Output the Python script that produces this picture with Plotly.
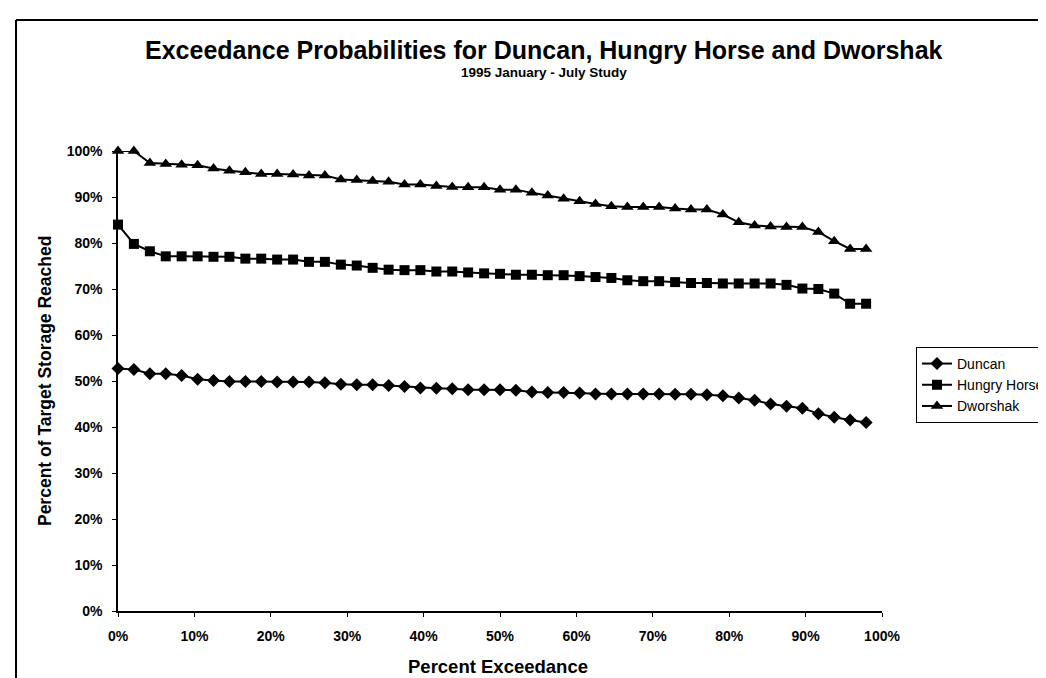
import plotly.graph_objects as go

exceedance = [0, 2.08, 4.17, 6.25, 8.33, 10.42, 12.5, 14.58, 16.67, 18.75, 20.83, 22.92,
              25, 27.08, 29.17, 31.25, 33.33, 35.42, 37.5, 39.58, 41.67, 43.75, 45.83, 47.92,
              50, 52.08, 54.17, 56.25, 58.33, 60.42, 62.5, 64.58, 66.67, 68.75, 70.83, 72.92,
              75, 77.08, 79.17, 81.25, 83.33, 85.42, 87.5, 89.58, 91.67, 93.75, 95.83, 97.92]

duncan = [52.7, 52.5, 51.6, 51.6, 51.2, 50.4, 50.1, 49.9, 49.9, 49.9, 49.8, 49.8,
          49.8, 49.6, 49.3, 49.2, 49.2, 49.0, 48.8, 48.5, 48.4, 48.3, 48.1, 48.1,
          48.1, 48.0, 47.6, 47.5, 47.5, 47.4, 47.2, 47.2, 47.2, 47.2, 47.2, 47.1,
          47.1, 47.0, 46.8, 46.3, 45.8, 45.0, 44.5, 44.1, 42.9, 42.1, 41.5, 41.0]

hungry_horse = [84.0, 79.8, 78.2, 77.1, 77.1, 77.1, 77.0, 77.0, 76.6, 76.6, 76.4, 76.4,
                75.9, 75.9, 75.3, 75.1, 74.6, 74.2, 74.1, 74.1, 73.8, 73.8, 73.6, 73.4,
                73.3, 73.1, 73.1, 73.0, 73.0, 72.8, 72.6, 72.4, 71.9, 71.7, 71.7, 71.5,
                71.3, 71.3, 71.2, 71.2, 71.2, 71.2, 70.9, 70.1, 70.0, 69.0, 66.8, 66.8]

dworshak = [100, 100, 97.4, 97.2, 97.0, 96.9, 96.2, 95.7, 95.4, 95.0, 95.0, 94.9,
            94.7, 94.7, 93.8, 93.7, 93.5, 93.3, 92.7, 92.7, 92.4, 92.2, 92.1, 92.1,
            91.6, 91.6, 90.9, 90.3, 89.6, 89.1, 88.5, 88.0, 87.8, 87.8, 87.8, 87.5,
            87.3, 87.3, 86.2, 84.5, 83.8, 83.6, 83.5, 83.5, 82.4, 80.4, 78.7, 78.7]

series_names = ["Duncan", "Hungry Horse", "Dworshak"]
title_text = "Exceedance Probabilities for Duncan, Hungry Horse and Dworshak"
subtitle_text = "1995 January - July Study"
x_title = "Percent Exceedance"
y_title = "Percent of Target Storage Reached"

FONT = "Liberation Sans, Arial, Helvetica, sans-serif"

fig = go.Figure()
styles = [("diamond", 10), ("square", 10), ("triangle-up", 11)]
for name, vals, (sym, sz) in zip(series_names, [duncan, hungry_horse, dworshak], styles):
    fig.add_trace(go.Scatter(
        x=exceedance, y=vals, name=name, mode="lines+markers",
        line=dict(color="black", width=2),
        marker=dict(symbol=sym, size=sz, color="black"),
        cliponaxis=False,
    ))

axis_common = dict(
    showgrid=False, zeroline=False, showline=True, linecolor="black", linewidth=1.5,
    ticks="outside", ticklen=4, tickwidth=1, tickcolor="black",
    ticksuffix="%", tickmode="linear", dtick=10, range=[0, 100],
    tickfont=dict(family=FONT, size=14, color="black", weight="bold"),
)
fig.update_layout(
    xaxis=dict(ticklabelstandoff=7, automargin=False, **axis_common),
    yaxis=dict(ticklabelstandoff=7, automargin=False, **axis_common),
    # overlay axes giving the inner half of the crossing tick marks
    xaxis2=dict(overlaying="x", anchor="y", side="bottom", range=[0, 100], tickmode="linear",
                dtick=10, ticks="inside", ticklen=4, tickwidth=1, tickcolor="black",
                showticklabels=False, showline=False, showgrid=False, zeroline=False),
    yaxis2=dict(overlaying="y", anchor="x", side="left", range=[0, 100], tickmode="linear",
                dtick=10, ticks="inside", ticklen=4, tickwidth=1, tickcolor="black",
                showticklabels=False, showline=False, showgrid=False, zeroline=False),
)

fig.add_annotation(text=f"<b>{title_text}</b>", xref="paper", yref="paper",
                   x=0.5576, y=1.2196, showarrow=False, xanchor="center", yanchor="middle",
                   font=dict(family=FONT, size=25, color="black"))
fig.add_annotation(text=f"<b>{subtitle_text}</b>", xref="paper", yref="paper",
                   x=0.5576, y=1.1717, showarrow=False, xanchor="center", yanchor="middle",
                   font=dict(family=FONT, size=13.5, color="black"))
fig.add_annotation(text=f"<b>{x_title}</b>", xref="paper", yref="paper",
                   x=0.498, y=-0.12, showarrow=False, xanchor="center", yanchor="middle",
                   font=dict(family=FONT, size=18.5, color="black"))
fig.add_annotation(text=f"<b>{y_title}</b>", xref="paper", yref="paper",
                   x=-0.0955, y=0.5, showarrow=False, xanchor="center", yanchor="middle",
                   textangle=-90,
                   font=dict(family=FONT, size=17.5, color="black"))

# page frame (top and left edges)
fig.add_shape(type="line", xref="paper", yref="paper", x0=-0.1335, x1=1.25, y0=1.2848, y1=1.2848,
              line=dict(color="black", width=2))
fig.add_shape(type="line", xref="paper", yref="paper", x0=-0.1335, x1=-0.1335, y0=1.2848, y1=-0.2,
              line=dict(color="black", width=2))

fig.update_layout(
    width=1046, height=678,
    margin=dict(l=110, r=172, t=143, b=75, autoexpand=False),
    paper_bgcolor="white", plot_bgcolor="white",
    showlegend=True,
    legend=dict(x=1.0445, y=0.574, xanchor="left", yanchor="top",
                bordercolor="black", borderwidth=1, bgcolor="white",
                font=dict(family=FONT, size=14, color="black"),
                itemwidth=30, tracegroupgap=0),
    font=dict(family=FONT, color="black"),
)

fig.write_html("out.html")
